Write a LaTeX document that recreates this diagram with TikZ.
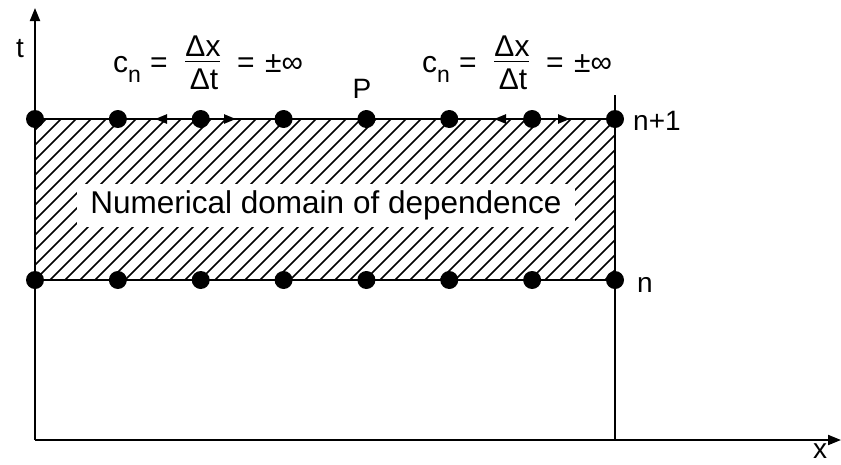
\documentclass[tikz,border=0pt]{standalone}
\usepackage{fontspec}
\setmainfont{Liberation Sans}
\usetikzlibrary{arrows.meta}
\tikzset{
  dot/.style={circle, fill=black, inner sep=0pt, minimum size=18pt},
  axisline/.style={line width=2pt, -{Triangle[length=13pt,width=10pt]}},
  gridline/.style={line width=2.4pt},
  smallarrow/.style={line width=2.4pt, -{Triangle[length=12pt,width=9pt]}},
  lab/.style={font=\fontsize{28}{32}\selectfont, inner sep=0pt},
  flab/.style={font=\fontsize{30}{34}\selectfont, inner sep=0pt},
  fbar/.style={inner sep=0pt, fill=black, minimum width=35pt, minimum height=1.3pt},
  hatch/.style={line width=1.5pt},
}
\newcommand{\mysub}[1]{\raisebox{-10pt}{\fontsize{23}{23}\selectfont #1}}
\begin{document}
\begin{tikzpicture}[x=1pt,y=-1pt]
\useasboundingbox (0,0) rectangle (841,464);
% hatching
\begin{scope}
  \clip (35,119) rectangle (615,280);
  \foreach \i in {-12,...,40} {
    \draw[hatch] ({35+\i*15},280) -- ++(161,-161);
  }
\end{scope}
% coordinates
\coordinate (O) at (35,440);
\coordinate (tend) at (35,8);
\coordinate (xend) at (841,440);
\coordinate (rbot) at (615,440);
\coordinate (rtop) at (615,95);
% axes
\draw[axisline] (O) -- (tend);
\draw[axisline] (O) -- (xend);
\draw[line width=2pt] (rbot) -- (rtop);
% dots
\foreach \i in {0,...,7} {
  \node[dot] (t\i) at ({35+\i*82.857},119) {};
  \node[dot] (b\i) at ({35+\i*82.857},280) {};
}
\draw[gridline] (t0.center) -- (t7.center);
\draw[gridline] (b0.center) -- (b7.center);
% small arrows
\coordinate (a1) at (155,119);
\coordinate (a2) at (236,119);
\coordinate (a3) at (494,119);
\coordinate (a4) at (570,119);
\draw[smallarrow] (t2.center) -- (a1);
\draw[smallarrow] (t2.center) -- (a2);
\draw[smallarrow] (t6.center) -- (a3);
\draw[smallarrow] (t6.center) -- (a4);
% text
\node[fill=white, font=\fontsize{31.5}{36}\selectfont, inner xsep=13pt, inner ysep=5.5pt, text height=24pt, text depth=8pt, anchor=base] (dom) at (326,213) {Numerical domain of dependence};
\node[lab, anchor=base] (tl) at (20,57) {t};
\node[lab, anchor=base] (xl) at (820,458) {x};
\node[lab, anchor=base] (pl) at (362,98) {P};
\node[lab, anchor=base west] (n1) at (633,130) {n+1};
\node[lab, anchor=base west] (n0) at (637,292) {n};
% formulas
\foreach \dx/\k in {0/a, 309/b} {
  \node[flab, anchor=base west] (cn\k) at ({113+\dx},72) {c\mysub{n}};
  \node[flab, anchor=base west] (eqa\k) at ({150+\dx},72) {=};
  \node[flab, anchor=base] (num\k) at ({203+\dx},56) {Δx};
  \node[fbar] (bar\k) at ({202.5+\dx},61.5) {};
  \node[flab, anchor=base] (den\k) at ({204+\dx},89) {Δt};
  \node[flab, anchor=base west] (eqb\k) at ({237+\dx},72) {=};
  \node[flab, anchor=base west] (pm\k) at ({265+\dx},72) {±∞};
}
\end{tikzpicture}
\end{document}
